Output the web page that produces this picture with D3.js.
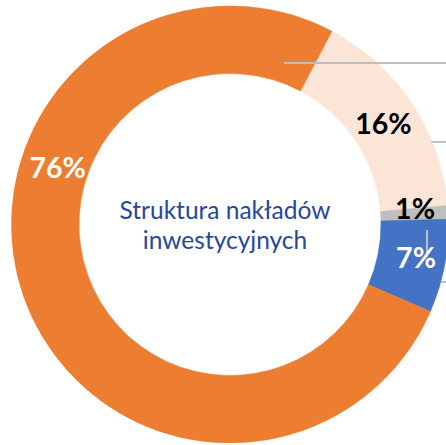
<!DOCTYPE html>
<html>
<head>
<meta charset="utf-8">
<script src="https://cdn.jsdelivr.net/npm/d3@7/dist/d3.min.js"></script>
<style>
  html, body { margin: 0; padding: 0; background: #ffffff; }
  svg { display: block; }
</style>
</head>
<body>
<div id="chart"></div>
<script>
// ---- data ----
const categories = ["Kategoria 1", "Kategoria 2", "Kategoria 3", "Kategoria 4"];
const values = [15.9, 1.0, 6.9, 76.2];
const labels = ["16%", "1%", "7%", "76%"];
const titleLines = ["Struktura nakładów", "inwestycyjnych"];

// ---- styles / layout ----
const colors = ["#FBE5D6", "#BFBFBF", "#4472C4", "#ED7D31"];
const labelColors = ["#000000", "#000000", "#ffffff", "#ffffff"];
const labelAngleShift = [0.3, -1.8, -1.0, 37.5]; // degrees, from slice centroid
const labelRadiusShift = [-1.2, 1, 4.2, -3.4];
const W = 446, H = 445;
const cx = 230, cy = 224.5;
const outerR = 218.5, innerR = 151;
const startDeg = 27.8;

const svg = d3.select("#chart").append("svg")
  .attr("width", W).attr("height", H);

const g = svg.append("g").attr("transform", `translate(${cx},${cy})`);

const pie = d3.pie().sort(null).value(d => d.v)
  .startAngle(startDeg * Math.PI / 180)
  .endAngle(startDeg * Math.PI / 180 + 2 * Math.PI);

const data = categories.map((c, i) => ({ c, v: values[i], label: labels[i], i }));
const arcs = pie(data);

const arc = d3.arc().innerRadius(innerR).outerRadius(outerR);

g.selectAll("path.slice").data(arcs).enter().append("path")
  .attr("class", "slice")
  .attr("d", arc)
  .attr("fill", d => colors[d.data.i])
  .attr("stroke", d => colors[d.data.i])
  .attr("stroke-width", 0.6);

// leader lines (decorative, relative to ring)
const midR = (innerR + outerR) / 2;
function polar(r, deg) {
  const a = deg * Math.PI / 180;
  return [r * Math.sin(a), -r * Math.cos(a)];
}
function xOnOuter(dy) { return Math.sqrt(outerR * outerR - dy * dy); }
const leaderY = [-161.5, -82.5, 57.5];
const lines = [
  [[54, leaderY[0]], [W - cx, leaderY[0]]],
  [[xOnOuter(leaderY[1]) - 1, leaderY[1]], [W - cx, leaderY[1]]],
  [[197, 5.5], [197, 32.5]],
  [[xOnOuter(leaderY[2]), leaderY[2]], [W - cx, leaderY[2]]]
];
g.selectAll("line.leader").data(lines).enter().append("line")
  .attr("class", "leader")
  .attr("x1", d => d[0][0]).attr("y1", d => d[0][1])
  .attr("x2", d => d[1][0]).attr("y2", d => d[1][1])
  .attr("stroke", "#BFBFBF").attr("stroke-width", 2);

// labels
g.selectAll("text.lbl").data(arcs).enter().append("text")
  .attr("class", "lbl")
  .attr("transform", d => {
    const midDeg = (d.startAngle + d.endAngle) / 2 * 180 / Math.PI + labelAngleShift[d.data.i];
    const p = polar(midR + labelRadiusShift[d.data.i], midDeg);
    return `translate(${p[0]},${p[1]})`;
  })
  .attr("text-anchor", "middle")
  .attr("dy", "0.36em")
  .attr("font-family", "Lato, 'Open Sans', sans-serif")
  .attr("font-weight", 700)
  .attr("font-size", 28.5)
  .attr("fill", d => labelColors[d.data.i])
  .text(d => d.data.label);

// center title
svg.append("g").selectAll("text.title").data(titleLines).enter().append("text")
  .attr("class", "title")
  .attr("x", cx - 5)
  .attr("y", (d, i) => cy - 5.2 + i * 30)
  .attr("text-anchor", "middle")
  .attr("font-family", "Lato, 'Open Sans', sans-serif")
  .attr("font-size", 24.5)
  .attr("fill", "#27479E")
  .text(d => d);
</script>
</body>
</html>
